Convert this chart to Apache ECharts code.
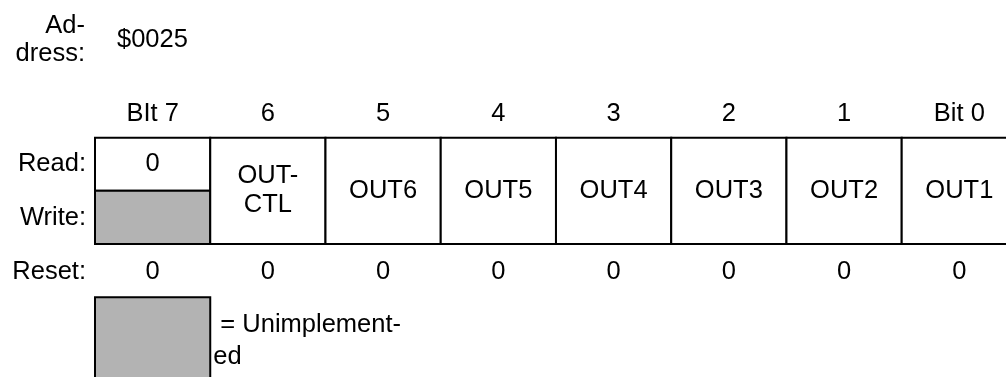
<!DOCTYPE html>
<html>
<head>
<meta charset="utf-8">
<script src="https://cdn.jsdelivr.net/npm/echarts@6/dist/echarts.min.js"></script>
<style>
  html, body { margin: 0; padding: 0; background: #fff; }
  #chart { width: 1006px; height: 377px; }
</style>
</head>
<body>
<div id="chart"></div>
<script>
// ---- data ----
const addressLabel = 'Ad-\ndress:';
const addressValue = '$0025';
const bitLabels = ['BIt 7', '6', '5', '4', '3', '2', '1', 'Bit 0'];
const rowLabels = ['Read:', 'Write:', 'Reset:'];
const readNames = ['0', 'OUT-\nCTL', 'OUT6', 'OUT5', 'OUT4', 'OUT3', 'OUT2', 'OUT1'];
const writeUnimplemented = [true, false, false, false, false, false, false, false];
const resetValues = ['0', '0', '0', '0', '0', '0', '0', '0'];
const legendText = ' = Unimplement-\ned';

// ---- style ----
const FONT = '"Liberation Sans", Arial, Helvetica, sans-serif';
const FS = 25.5;
const GRAY = '#b3b3b3';
const LINE = '#000';

// rows (y axis units): read row 0..1, write row 1..2
const Y_HEADER = -0.45, Y_RESET = 2.53, Y_ADDR = -1.84, Y_LEGEND_BOX = 3, Y_LEGEND_TEXT = 3.82;

// cells: [col, yStart, yEnd, gray(1/0), text]
const cells = [];
readNames.forEach((name, i) => {
  if (writeUnimplemented[i]) {
    cells.push([i, 0, 1, 0, name]);
    cells.push([i, 1, 2, 1, '']);
  } else {
    cells.push([i, 0, 2, 0, name]);
  }
});
const legendCell = [[0, Y_LEGEND_BOX, Y_LEGEND_BOX + 2, 1, '']];

// texts: [x, y, text, align, dx, lineHeight]
const texts = [];
bitLabels.forEach((t, i) => texts.push([i + 0.5, Y_HEADER, t, 'center', 0, 29]));
resetValues.forEach((t, i) => texts.push([i + 0.5, Y_RESET, t, 'center', 0, 29]));
texts.push([0, 0.5, rowLabels[0], 'right', -9, 29]);
texts.push([0, 1.52, rowLabels[1], 'right', -9, 29]);
texts.push([0, Y_RESET, rowLabels[2], 'right', -9, 29]);
texts.push([0, Y_ADDR, addressLabel, 'right', -10, 28.4]);
texts.push([0, Y_ADDR, addressValue, 'left', 22, 29]);
texts.push([1, Y_LEGEND_TEXT, legendText, 'left', 3, 32]);

function cellsText(params) {
  const src = params.seriesIndex === 0 ? cells : legendCell;
  return src[params.dataIndex][4];
}

function renderCell(params, api) {
  const x0 = api.value(0), y0 = api.value(1), y1 = api.value(2);
  const p0 = api.coord([x0, y0]);
  const p1 = api.coord([x0 + 1, y1]);
  const gray = api.value(3) === 1;
  const label = cellsText(params);
  const children = [{
    type: 'rect',
    shape: { x: p0[0], y: p0[1], width: p1[0] - p0[0], height: p1[1] - p0[1] },
    style: { fill: gray ? GRAY : '#fff', stroke: LINE, lineWidth: 2 }
  }];
  if (label) {
    children.push({
      type: 'text',
      style: {
        x: (p0[0] + p1[0]) / 2, y: (p0[1] + p1[1]) / 2,
        text: label, fill: '#000', fontSize: FS, fontFamily: FONT,
        align: 'center', verticalAlign: 'middle', lineHeight: 29
      }
    });
  }
  return { type: 'group', children };
}

function renderText(params, api) {
  const d = texts[params.dataIndex];
  const p = api.coord([d[0], d[1]]);
  return {
    type: 'text',
    style: {
      x: p[0] + d[4], y: p[1],
      text: d[2], fill: '#000', fontSize: FS, fontFamily: FONT,
      align: d[3], verticalAlign: 'middle', lineHeight: d[5]
    }
  };
}

const chart = echarts.init(document.getElementById('chart'), null, { renderer: 'canvas' });
chart.setOption({
  animation: false,
  backgroundColor: '#fff',
  grid: { left: 95, top: 4.8, right: 0, height: 372.05 },
  // visible width 911px shows 7.905 columns of ~115.2px; the last column runs past the right edge
  xAxis: { type: 'value', min: 0, max: 7.905, show: false },
  yAxis: { type: 'value', min: -2.5, max: 4.5, inverse: true, show: false },
  series: [
    { type: 'custom', renderItem: renderCell, data: cells.map(c => c.slice(0, 4)), clip: false, silent: true },
    { type: 'custom', renderItem: renderCell, data: legendCell.map(c => c.slice(0, 4)), clip: false, silent: true },
    { type: 'custom', renderItem: renderText, data: texts.map(t => [t[0], t[1]]), clip: false, silent: true }
  ]
});
</script>
</body>
</html>
